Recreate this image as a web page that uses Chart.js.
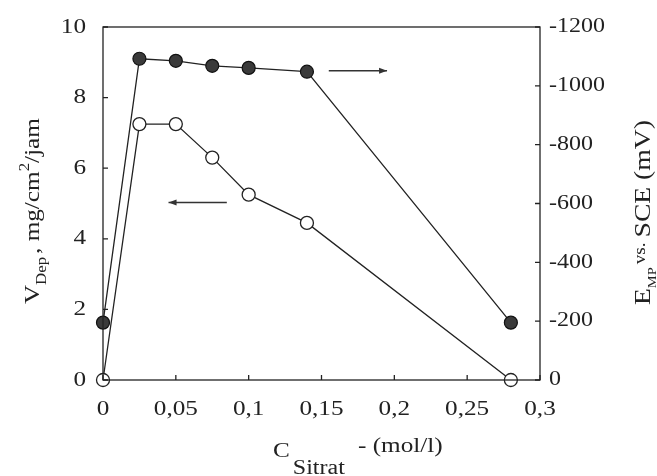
<!DOCTYPE html>
<html>
<head>
<meta charset="utf-8">
<script src="https://cdn.jsdelivr.net/npm/chart.js@4/dist/chart.umd.min.js"></script>
<style>
  html, body { margin: 0; padding: 0; background: #fff; }
  #wrap { width: 657px; height: 476px; }
</style>
</head>
<body>
<div id="wrap"><canvas id="chart" width="657" height="476"></canvas></div>
<script>
// Data
const cSitrat = [0, 0.025, 0.05, 0.075, 0.1, 0.14, 0.28];   // mol/l
const vDep = [0, 7.25, 7.25, 6.3, 5.25, 4.45, 0];            // mg/cm2/jam (left axis)
const eMp = [-195, -1092, -1085, -1068, -1061, -1048, -195]; // mV vs SCE (right axis)

const xTicks = [0, 0.05, 0.1, 0.15, 0.2, 0.25, 0.3];
const leftTicks = [0, 2, 4, 6, 8, 10];
const rightTicks = [0, -200, -400, -600, -800, -1000, -1200];

// arrows showing which axis each series belongs to (data coords)
const arrowE = { x0: 0.155, x1: 0.195, y: -1051, axis: 'y2' };
const arrowV = { x0: 0.085, x1: 0.045, y: 5.03, axis: 'y' };

const FONT = '"Liberation Serif", "DejaVu Serif", serif';
const STRETCH = 1.2; // the scanned figure has wide lettering
const fmt = v => (+v.toFixed(2)).toString().replace('.', ',');

// draws horizontally stretched text, returns its advance
function txt(ctx, s, x, y, size, align) {
    ctx.font = size + 'px ' + FONT;
    const w = ctx.measureText(s).width * STRETCH;
    let left = x;
    if (align === 'center') left = x - w / 2;
    else if (align === 'right') left = x - w;
    ctx.save();
    ctx.translate(left, y);
    ctx.scale(STRETCH, 1);
    ctx.textAlign = 'left';
    ctx.fillText(s, 0, 0);
    ctx.restore();
    return w;
}

// frame, inside ticks, tick labels, arrows and axis titles
const decor = {
    id: 'decor',
    afterDraw(chart) {
        const ctx = chart.ctx;
        const a = chart.chartArea;
        const sx = chart.scales.x, sy = chart.scales.y, sy2 = chart.scales.y2;
        ctx.save();
        ctx.strokeStyle = '#222';
        ctx.lineWidth = 1.3;
        ctx.strokeRect(a.left, a.top, a.right - a.left, a.bottom - a.top);

        ctx.beginPath();
        xTicks.forEach(t => {
            const px = sx.getPixelForValue(t);
            ctx.moveTo(px, a.bottom); ctx.lineTo(px, a.bottom - 5);
        });
        leftTicks.forEach(t => {
            const py = sy.getPixelForValue(t);
            ctx.moveTo(a.left, py); ctx.lineTo(a.left + 5, py);
        });
        rightTicks.forEach(t => {
            const py = sy2.getPixelForValue(t);
            ctx.moveTo(a.right, py); ctx.lineTo(a.right - 5, py);
        });
        ctx.stroke();

        // arrows
        [arrowE, arrowV].forEach(ar => {
            const sc = chart.scales[ar.axis];
            const x0 = sx.getPixelForValue(ar.x0), x1 = sx.getPixelForValue(ar.x1);
            const py = sc.getPixelForValue(ar.y);
            const dir = Math.sign(x1 - x0);
            ctx.strokeStyle = '#333';
            ctx.lineWidth = 1.5;
            ctx.beginPath();
            ctx.moveTo(x0, py); ctx.lineTo(x1, py);
            ctx.stroke();
            ctx.fillStyle = '#333';
            ctx.beginPath();
            ctx.moveTo(x1, py);
            ctx.lineTo(x1 - dir * 8, py - 3);
            ctx.lineTo(x1 - dir * 8, py + 3);
            ctx.closePath();
            ctx.fill();
        });

        ctx.fillStyle = '#222';
        ctx.textBaseline = 'middle';

        // tick labels
        xTicks.forEach(t => txt(ctx, fmt(t), sx.getPixelForValue(t), 409, 21, 'center'));
        leftTicks.forEach(t => txt(ctx, String(t), a.left - 17, sy.getPixelForValue(t), 21, 'right'));
        rightTicks.forEach(t => txt(ctx, String(t), a.right + 9, sy2.getPixelForValue(t), 20, 'left'));

        ctx.textBaseline = 'alphabetic';

        // bottom title: C_Sitrat - (mol/l)
        let bx = 273;
        bx += txt(ctx, 'C', bx, 457, 21);
        txt(ctx, 'Sitrat', bx + 3, 474, 20);
        txt(ctx, '- (mol/l)', 358, 452, 21);

        // left title: V_Dep , mg/cm2/jam
        ctx.save();
        ctx.translate(39, 304);
        ctx.rotate(-Math.PI / 2);
        let lx = 0;
        lx += txt(ctx, 'V', lx, 0, 22);
        lx += txt(ctx, 'Dep', lx, 7, 14) + 3;
        lx += txt(ctx, ', mg/cm', lx, 0, 21);
        lx += txt(ctx, '2', lx, -10, 14);
        txt(ctx, '/jam', lx, 0, 21);
        ctx.restore();

        // right title: E_MP vs. SCE (mV)
        ctx.save();
        ctx.translate(650, 305);
        ctx.rotate(-Math.PI / 2);
        let rx = 0;
        rx += txt(ctx, 'E', rx, 0, 23);
        rx += txt(ctx, 'MP', rx, 6, 12) + 3;
        rx += txt(ctx, 'vs.', rx, -5, 16) + 5;
        txt(ctx, 'SCE (mV)', rx, 0, 23);
        ctx.restore();

        ctx.restore();
    }
};

const ctx = document.getElementById('chart').getContext('2d');
new Chart(ctx, {
    type: 'scatter',
    data: {
        datasets: [{
            label: 'E',
            data: cSitrat.map((c, i) => ({ x: c, y: eMp[i] })),
            yAxisID: 'y2',
            showLine: true,
            borderColor: '#222',
            borderWidth: 1.3,
            pointRadius: 6.5,
            pointBackgroundColor: '#3a3a3a',
            pointBorderColor: '#111',
            pointBorderWidth: 1.2
        }, {
            label: 'V',
            data: cSitrat.map((c, i) => ({ x: c, y: vDep[i] })),
            yAxisID: 'y',
            showLine: true,
            borderColor: '#222',
            borderWidth: 1.3,
            pointRadius: 6.5,
            pointBackgroundColor: '#fff',
            pointBorderColor: '#222',
            pointBorderWidth: 1.3
        }]
    },
    options: {
        responsive: false,
        animation: false,
        clip: false,
        layout: { padding: { top: 27, left: 0, right: 0, bottom: 0 } },
        plugins: { legend: { display: false }, tooltip: { enabled: false } },
        scales: {
            x: {
                type: 'linear',
                min: 0, max: 0.3,
                afterBuildTicks: s => { s.ticks = xTicks.map(v => ({ value: v })); },
                afterFit: s => { s.height = 96; },
                grid: { display: false },
                border: { display: false },
                ticks: { display: false }
            },
            y: {
                position: 'left',
                min: 0, max: 10,
                afterBuildTicks: s => { s.ticks = leftTicks.map(v => ({ value: v })); },
                afterFit: s => { s.width = 103; },
                grid: { display: false },
                border: { display: false },
                ticks: { display: false }
            },
            y2: {
                position: 'right',
                min: -1200, max: 0,
                reverse: true,
                afterBuildTicks: s => { s.ticks = rightTicks.map(v => ({ value: v })); },
                afterFit: s => { s.width = 117; },
                grid: { display: false },
                border: { display: false },
                ticks: { display: false }
            }
        }
    },
    plugins: [decor]
});
</script>
</body>
</html>
